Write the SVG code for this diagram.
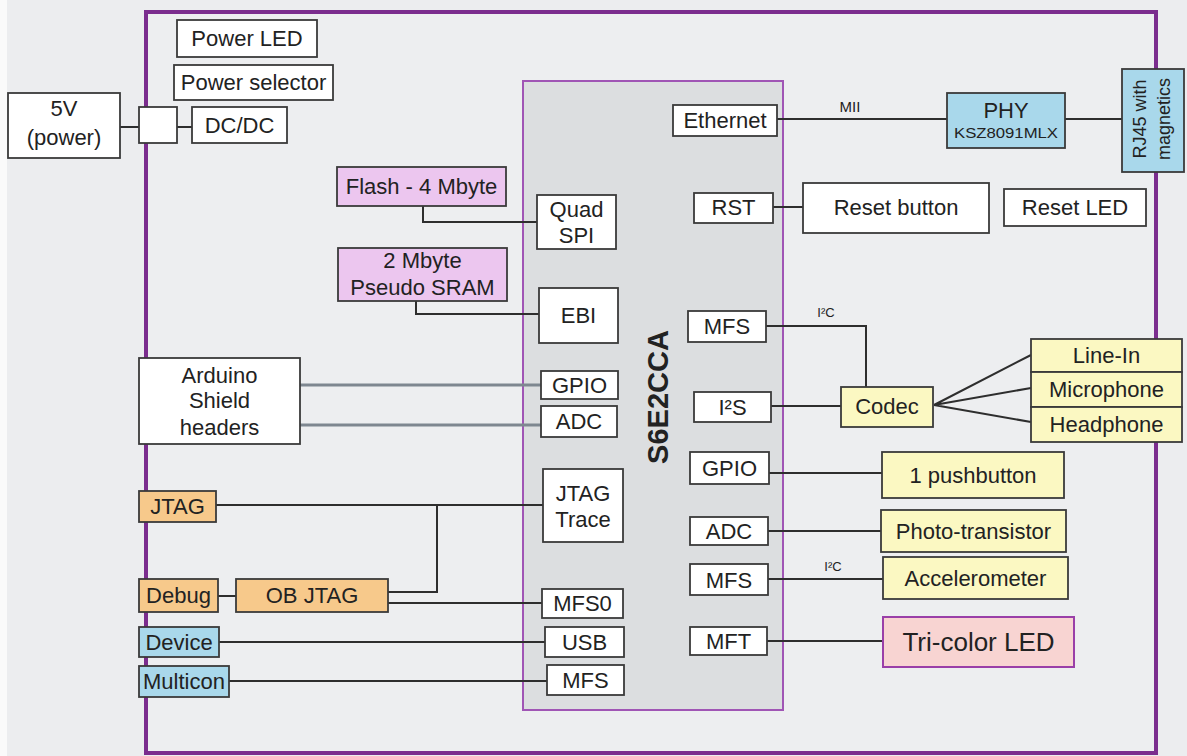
<svg xmlns="http://www.w3.org/2000/svg" width="1187" height="756" viewBox="0 0 1187 756">
<style>
.box{fill:#fff;stroke:#3a3a3a;stroke-width:1.8}
.pink{fill:#ECC6EF}
.blue{fill:#A9D8EB}
.orange{fill:#F7C98B}
.yellow{fill:#FBF8C2}
.led{fill:#F8D4D2;stroke:#9A3FA8;stroke-width:2}
.t{font-family:"Liberation Sans",Arial,sans-serif;font-size:22px;fill:#222;text-anchor:middle}
.sm{font-size:14px}
.conn line,.conn path{stroke:#2e2e2e;stroke-width:2;fill:none}
.conn .gray{stroke:#7E8790;stroke-width:3}
</style>
<rect x="0" y="0" width="1187" height="756" fill="#ECEDEF"/>
<rect x="0" y="0" width="7" height="756" fill="#FAFAFA"/>
<rect id="board" x="146" y="12" width="1010" height="741" fill="#EDEEF0" stroke="#7B2D8E" stroke-width="4"/>
<g id="chip">
<rect x="523" y="81" width="260" height="629" fill="#DCDEE0" stroke="#A055B5" stroke-width="2"/>
<text class="t" transform="translate(668,397) rotate(-90)" style="font-size:29px;font-weight:bold">S6E2CCA</text>
</g>
<g id="connectors" class="conn">
<line x1="120" y1="127" x2="139" y2="127"/>
<line x1="177" y1="127" x2="192" y2="127"/>
<path d="M423,206 V222 H537"/>
<path d="M416,301 V314 H539"/>
<line class="gray" x1="300" y1="385" x2="541" y2="385"/>
<line class="gray" x1="300" y1="425" x2="541" y2="425"/>
<line x1="216" y1="505" x2="543" y2="505"/>
<path d="M388,592 H437 V505"/>
<line x1="388" y1="603" x2="542" y2="603"/>
<line x1="218" y1="596" x2="236" y2="596"/>
<line x1="219" y1="642" x2="545" y2="642"/>
<line x1="229" y1="681" x2="547" y2="681"/>
<line x1="777" y1="119" x2="947" y2="119"/>
<line x1="1065" y1="119" x2="1122" y2="119"/>
<line x1="773" y1="207" x2="803" y2="207"/>
<path d="M766,326 H866 V387"/>
<line x1="771" y1="406" x2="841" y2="406"/>
<path d="M934,405 L1031,355 M934,405 L1031,388 M934,405 L1031,422"/>
<line x1="769" y1="473" x2="882" y2="473"/>
<line x1="768" y1="531" x2="881" y2="531"/>
<line x1="768" y1="579" x2="883" y2="579"/>
<line x1="767" y1="641" x2="883" y2="641"/>
<text class="t" x="850" y="112" style="font-size:15px">MII</text>
<text class="t" x="826" y="317" style="font-size:13px">I²C</text>
<text class="t" x="833" y="571" style="font-size:13px">I²C</text>
</g>
<g id="power5v"><rect class="box" x="8" y="93" width="112" height="65"/><text class="t" x="64" y="116">5V</text><text class="t" x="64" y="145">(power)</text></g>
<g id="junction"><rect class="box" x="139" y="107" width="38" height="36"/></g>
<g id="dcdc"><rect class="box" x="192" y="107" width="95" height="36"/><text class="t" x="239.5" y="133">DC/DC</text></g>
<g id="powersel"><rect class="box" x="174" y="65" width="159" height="35"/><text class="t" x="253.5" y="90">Power selector</text></g>
<g id="powerled"><rect class="box" x="177" y="20" width="140" height="37"/><text class="t" x="247" y="46">Power LED</text></g>
<g id="flash"><rect class="box pink" x="337" y="167" width="169" height="39"/><text class="t" x="421.5" y="194">Flash - 4 Mbyte</text></g>
<g id="qspi"><rect class="box" x="537" y="195" width="79" height="54"/><text class="t" x="576.5" y="217">Quad</text><text class="t" x="576.5" y="243">SPI</text></g>
<g id="sram"><rect class="box pink" x="338" y="248" width="169" height="53"/><text class="t" x="422.5" y="268">2 Mbyte</text><text class="t" x="422.5" y="295">Pseudo SRAM</text></g>
<g id="ebi"><rect class="box" x="539" y="288" width="79" height="55"/><text class="t" x="578.5" y="323">EBI</text></g>
<g id="ethernet"><rect class="box" x="673" y="105" width="104" height="31"/><text class="t" x="725" y="128">Ethernet</text></g>
<g id="rst"><rect class="box" x="694" y="193" width="79" height="30"/><text class="t" x="733.5" y="215">RST</text></g>
<g id="mfs_i2c"><rect class="box" x="688" y="311" width="78" height="31"/><text class="t" x="727" y="334">MFS</text></g>
<g id="i2s"><rect class="box" x="694" y="392" width="77" height="30"/><text class="t" x="732.5" y="415">I²S</text></g>
<g id="gpio_r"><rect class="box" x="690" y="452" width="79" height="32"/><text class="t" x="729.5" y="476">GPIO</text></g>
<g id="adc_r"><rect class="box" x="690" y="517" width="78" height="28"/><text class="t" x="729" y="539">ADC</text></g>
<g id="mfs_acc"><rect class="box" x="690" y="564" width="78" height="31"/><text class="t" x="729" y="588">MFS</text></g>
<g id="mft"><rect class="box" x="690" y="627" width="77" height="28"/><text class="t" x="728.5" y="649">MFT</text></g>
<g id="gpio_l"><rect class="box" x="541" y="371" width="77" height="28"/><text class="t" x="579.5" y="393">GPIO</text></g>
<g id="adc_l"><rect class="box" x="541" y="406" width="76" height="31"/><text class="t" x="579" y="429">ADC</text></g>
<g id="jtagtrace"><rect class="box" x="543" y="469" width="80" height="73"/><text class="t" x="583" y="501">JTAG</text><text class="t" x="583" y="527">Trace</text></g>
<g id="mfs0"><rect class="box" x="542" y="589" width="81" height="29"/><text class="t" x="582.5" y="611">MFS0</text></g>
<g id="usb"><rect class="box" x="545" y="627" width="79" height="30"/><text class="t" x="584.5" y="650">USB</text></g>
<g id="mfs_multi"><rect class="box" x="547" y="665" width="77" height="30"/><text class="t" x="585.5" y="688">MFS</text></g>
<g id="arduino"><rect class="box" x="139" y="358" width="161" height="86"/><text class="t" x="219.5" y="383">Arduino</text><text class="t" x="219.5" y="408">Shield</text><text class="t" x="219.5" y="435">headers</text></g>
<g id="jtag"><rect class="box orange" x="139" y="491" width="77" height="31"/><text class="t" x="177.5" y="514">JTAG</text></g>
<g id="debug"><rect class="box orange" x="139" y="579" width="79" height="33"/><text class="t" x="178.5" y="603">Debug</text></g>
<g id="objtag"><rect class="box orange" x="236" y="579" width="152" height="33"/><text class="t" x="312" y="603">OB JTAG</text></g>
<g id="device"><rect class="box blue" x="139" y="627" width="80" height="30"/><text class="t" x="179" y="650">Device</text></g>
<g id="multicon"><rect class="box blue" x="139" y="666" width="90" height="31"/><text class="t" x="184" y="689">Multicon</text></g>
<g id="phy"><rect class="box blue" x="947" y="93" width="118" height="55"/><text class="t" x="1006" y="118">PHY</text><text class="t sm" x="1006" y="138" textLength="104" lengthAdjust="spacingAndGlyphs">KSZ8091MLX</text></g>
<g id="rj45"><rect class="box blue" x="1122" y="69" width="62" height="103"/><text class="t" transform="translate(1146,119) rotate(-90)" style="font-size:18px">RJ45 with</text><text class="t" transform="translate(1170,119) rotate(-90)" style="font-size:18px">magnetics</text></g>
<g id="resetbtn"><rect class="box" x="803" y="183" width="186" height="50"/><text class="t" x="896" y="215">Reset button</text></g>
<g id="resetled"><rect class="box" x="1004" y="189" width="142" height="37"/><text class="t" x="1075" y="215">Reset LED</text></g>
<g id="codec"><rect class="box yellow" x="841" y="387" width="92" height="40"/><text class="t" x="887" y="414">Codec</text></g>
<g id="linein"><rect class="box yellow" x="1031" y="339" width="151" height="33"/><text class="t" x="1106.5" y="363">Line-In</text></g>
<g id="microphone"><rect class="box yellow" x="1031" y="372" width="151" height="35"/><text class="t" x="1106.5" y="397">Microphone</text></g>
<g id="headphone"><rect class="box yellow" x="1031" y="407" width="151" height="35"/><text class="t" x="1106.5" y="432">Headphone</text></g>
<g id="pushbutton"><rect class="box yellow" x="882" y="452" width="182" height="46"/><text class="t" x="973" y="483">1 pushbutton</text></g>
<g id="phototransistor"><rect class="box yellow" x="881" y="510" width="185" height="42"/><text class="t" x="973.5" y="539">Photo-transistor</text></g>
<g id="accelerometer"><rect class="box yellow" x="883" y="557" width="185" height="42"/><text class="t" x="975.5" y="586">Accelerometer</text></g>
<g id="tricolorled"><rect class="led" x="883" y="617" width="191" height="50"/><text class="t" x="978.5" y="651" style="font-size:26px">Tri-color LED</text></g>
</svg>
